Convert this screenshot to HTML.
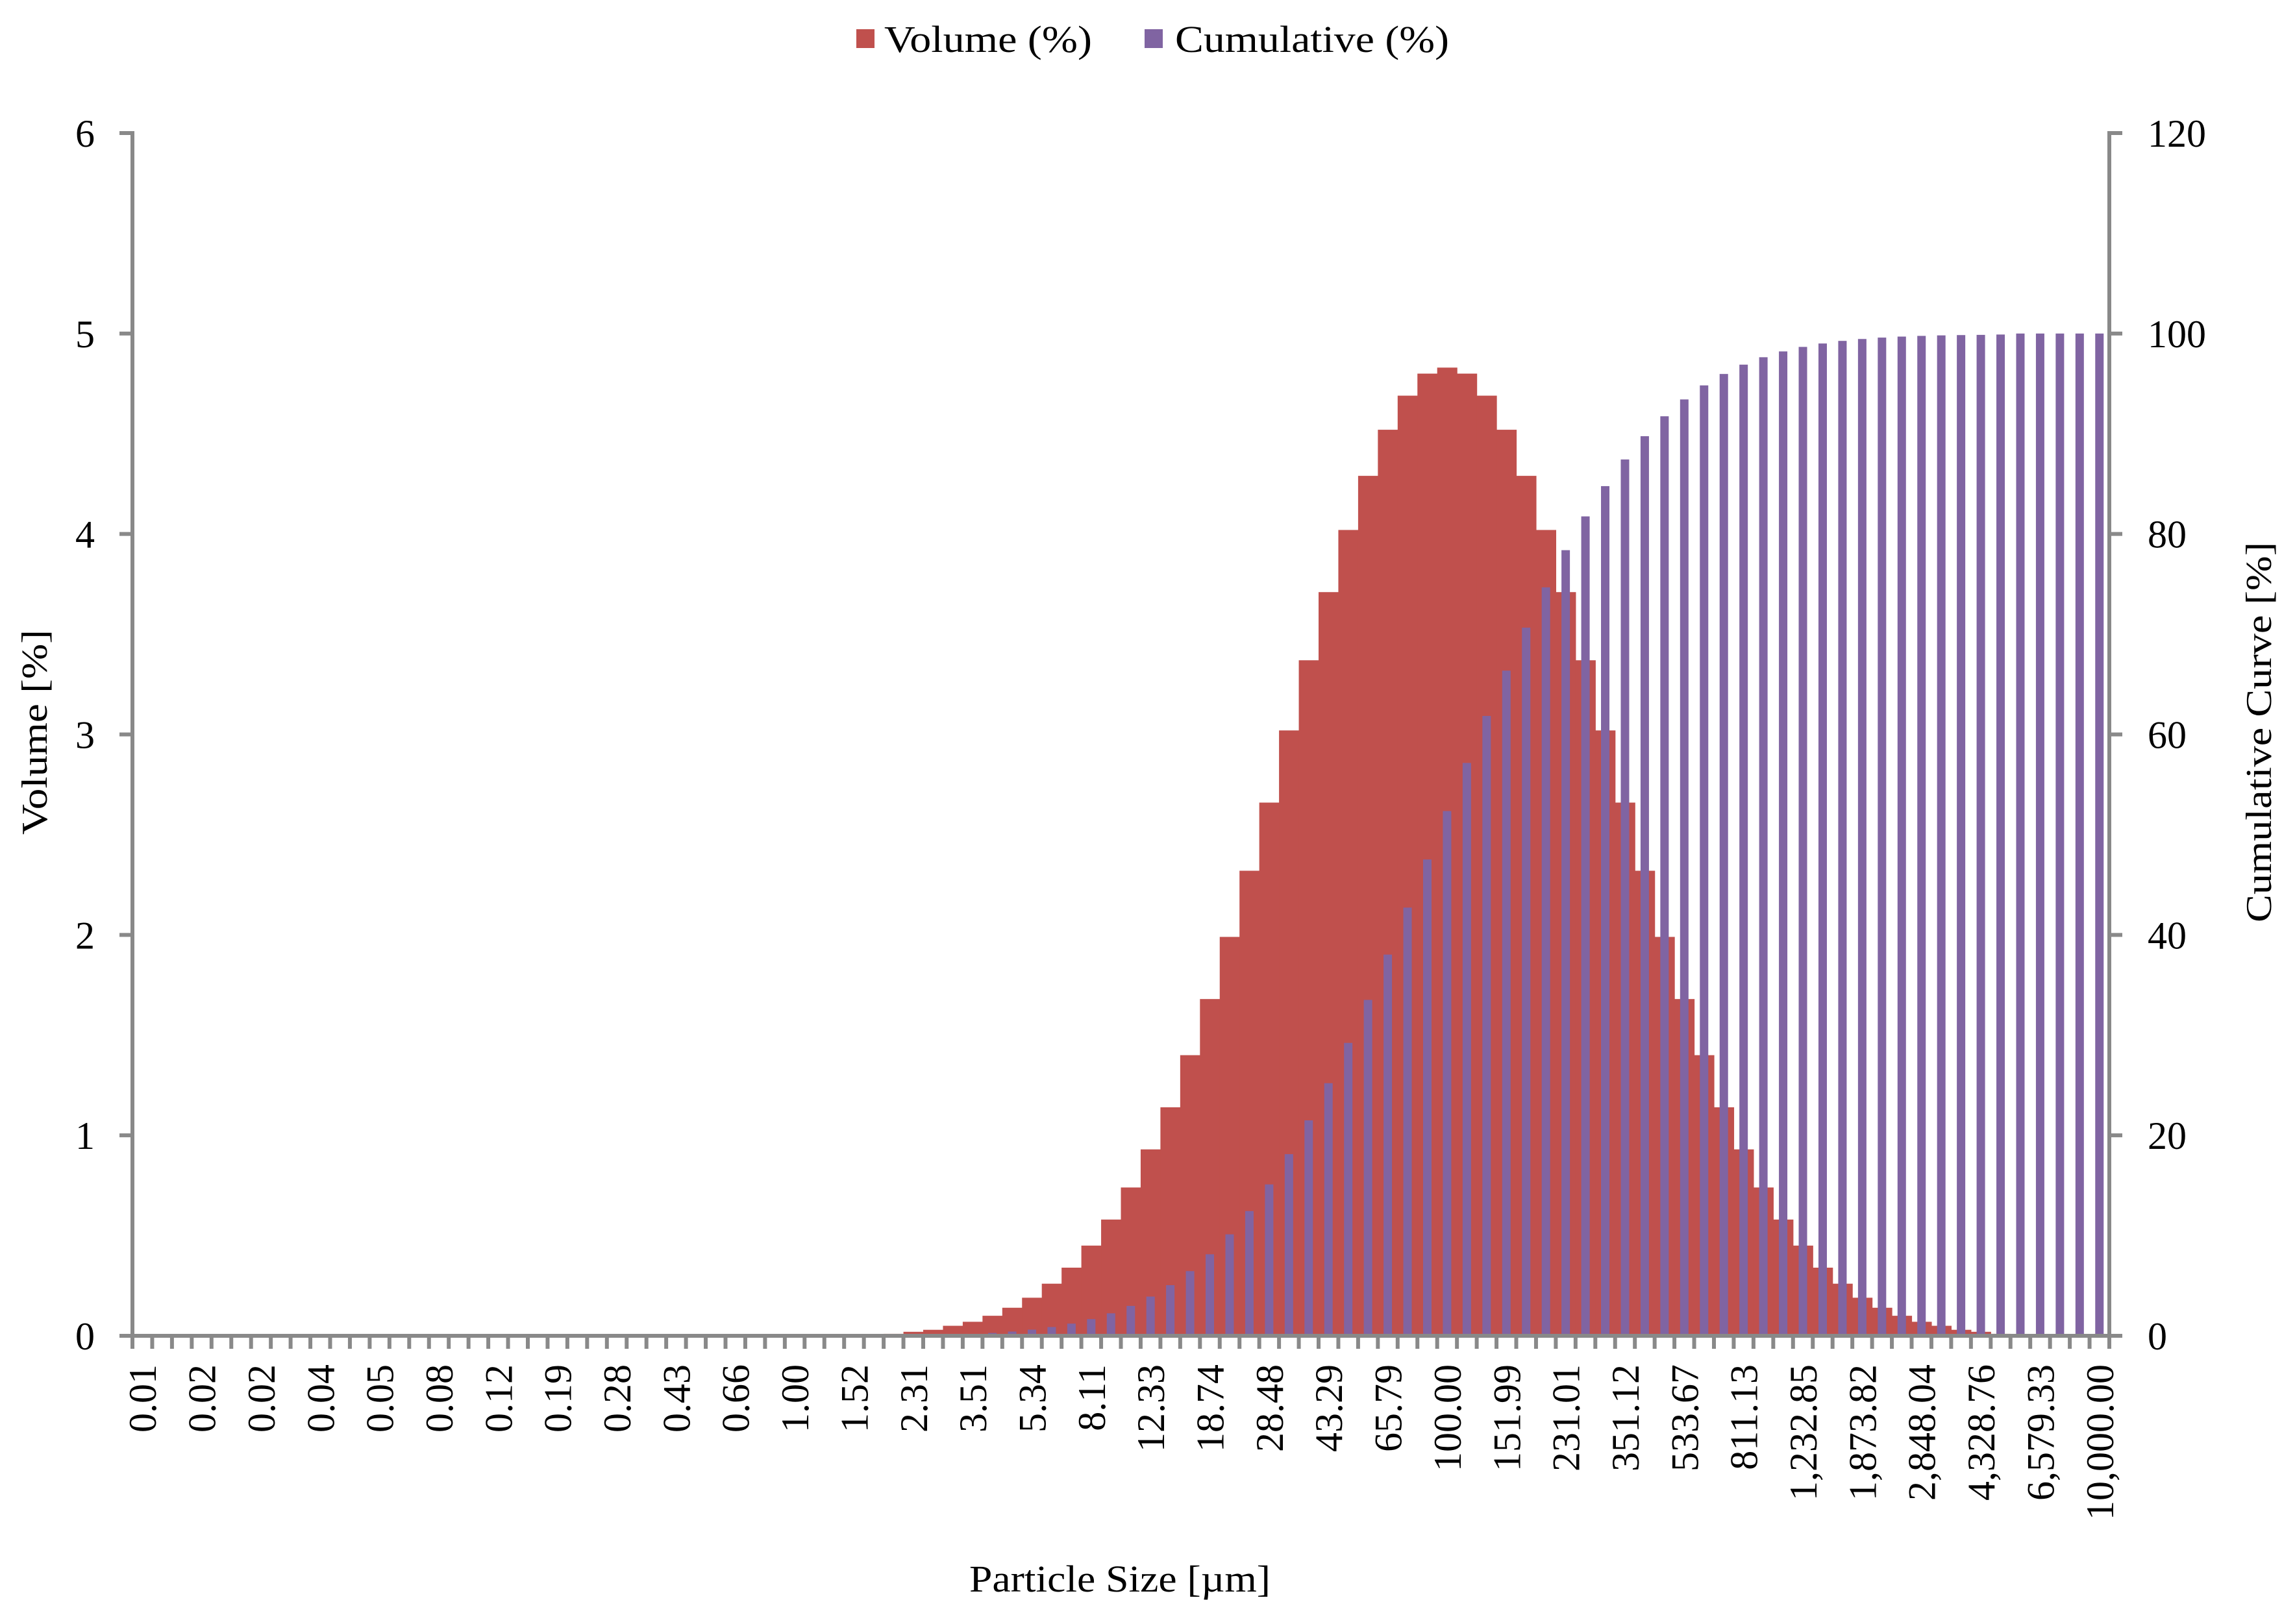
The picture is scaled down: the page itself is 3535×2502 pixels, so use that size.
<!DOCTYPE html>
<html><head><meta charset="utf-8"><style>html,body{margin:0;padding:0;background:#fff}svg{display:block}text{font-family:"Liberation Serif",serif;fill:#000}</style></head>
<body>
<svg id="chart" width="3535" height="2502" viewBox="0 0 3535 2502" xmlns="http://www.w3.org/2000/svg">
<g>
<rect x="1319" y="45" width="28" height="29" fill="#C0504D"/>
<text x="1362" y="80" font-size="58" textLength="320" lengthAdjust="spacingAndGlyphs">Volume (%)</text>
<rect x="1763" y="45" width="28" height="29" fill="#8064A2"/>
<text x="1810" y="80" font-size="58" textLength="422" lengthAdjust="spacingAndGlyphs">Cumulative (%)</text>
</g>
<text transform="translate(72,1128) rotate(-90)" text-anchor="middle" font-size="56" textLength="316" lengthAdjust="spacingAndGlyphs">Volume [%]</text>
<text transform="translate(3498,1128) rotate(-90)" text-anchor="middle" font-size="56" textLength="586" lengthAdjust="spacingAndGlyphs">Cumulative Curve [%]</text>
<text x="1725" y="2452" text-anchor="middle" font-size="58" textLength="464" lengthAdjust="spacingAndGlyphs">Particle Size [µm]</text>
<g id="bars"></g>
<g id="axes"></g>
</svg>
<script>
const xLabels = ["0.01","0.02","0.02","0.04","0.05","0.08","0.12","0.19","0.28","0.43","0.66","1.00","1.52","2.31","3.51","5.34","8.11","12.33","18.74","28.48","43.29","65.79","100.00","151.99","231.01","351.12","533.67","811.13","1,232.85","1,873.82","2,848.04","4,328.76","6,579.33","10,000.00"];
const volume = [0,0,0,0,0,0,0,0,0,0, 0,0,0,0,0,0,0,0,0,0, 0,0,0,0,0,0,0,0,0,0, 0,0,0,0,0,0,0,
0.005,0.01,0.02,0.03,0.05,0.07,0.10,0.14,0.19,0.26,0.34,0.45,0.58,0.74,0.93,1.14,1.40,1.68,1.99,2.32,2.66,3.02,3.37,3.71,4.02,4.29,4.52,4.69,4.80,
4.83,
4.80,4.69,4.52,4.29,4.02,3.71,3.37,3.02,2.66,2.32,1.99,1.68,1.40,1.14,0.93,0.74,0.58,0.45,0.34,0.26,0.19,0.14,0.10,0.07,0.05,0.03,0.02,0.01,0.005,
0,0,0,0];
const cumulative = [0,0,0,0,0,0,0,0,0,0, 0,0,0,0,0,0,0,0,0,0, 0,0,0,0,0,0,0,0,0,0, 0,0,0,0,0,0,0,
0.005,0.015,0.035,0.065,0.115,0.185,0.285,0.425,0.615,0.875,1.215,1.665,2.245,2.985,3.915,5.055,6.455,8.135,10.125,12.445,15.105,18.125,21.495,25.205,29.225,33.515,38.035,42.725,47.525,
52.355,
57.155,61.845,66.365,70.655,74.675,78.385,81.755,84.775,87.435,89.755,91.745,93.425,94.825,95.965,96.895,97.635,98.215,98.665,99.005,99.265,99.455,99.595,99.695,99.765,99.815,99.845,99.865,99.9,100,
100,100,100,100];
const yTicks = [0,1,2,3,4,5,6];
const y2Ticks = [0,20,40,60,80,100,120];

const NS="http://www.w3.org/2000/svg";
const X0=204, X1=3249, Y0=2058, YT=205;
const n=volume.length, cw=(X1-X0)/n;
const y1=v=>Y0-(v/6)*(Y0-YT);
const y2=v=>Y0-(v/120)*(Y0-YT);
const xc=i=>X0+(i+0.5)*cw;
function mk(tag,attrs,parent){const e=document.createElementNS(NS,tag);for(const k in attrs)e.setAttribute(k,attrs[k]);parent.appendChild(e);return e;}
const bars=document.getElementById('bars'), axes=document.getElementById('axes');
volume.forEach((v,i)=>{ if(v<=0)return;
  const r=mk('rect',{x:X0+i*cw,y:y1(v),width:cw+0.6,height:Y0-y1(v),fill:'#C0504D'},bars);
  
  
});
cumulative.forEach((v,i)=>{ if(v<=0)return;
  const w=13;
  const r=mk('rect',{x:xc(i)-w/2,y:y2(v),width:w,height:Y0-y2(v),fill:'#8064A2'},bars);
  
  
});
const G='#898989';
let l=mk('line',{x1:X0,y1:YT-3,x2:X0,y2:Y0+3,stroke:G,'stroke-width':6},axes);


l=mk('line',{x1:X1,y1:YT-3,x2:X1,y2:Y0+3,stroke:G,'stroke-width':6},axes);


l=mk('line',{x1:X0-20,y1:Y0,x2:X1+20,y2:Y0,stroke:G,'stroke-width':6},axes);


yTicks.forEach(v=>{
  const y=y1(v);
  const t=mk('line',{x1:X0-20,y1:y,x2:X0,y2:y,stroke:G,'stroke-width':6},axes);
  
  
  const tx=mk('text',{x:146,y:y+21,'text-anchor':'end','font-size':60},axes);
  tx.textContent=v;
  
  
});
y2Ticks.forEach(v=>{
  const y=y2(v);
  const t=mk('line',{x1:X1,y1:y,x2:X1+20,y2:y,stroke:G,'stroke-width':6},axes);
  
  
  const tx=mk('text',{x:3308,y:y+21,'text-anchor':'start','font-size':60},axes);
  tx.textContent=v;
  
  
});
for(let i=0;i<=n;i++){
  const x=X0+i*cw;
  const t=mk('line',{x1:x,y1:Y0,x2:x,y2:Y0+20,stroke:G,'stroke-width':6},axes);
  
  
}
xLabels.forEach((s,k)=>{
  const x=xc(k*3);
  const tx=mk('text',{transform:`translate(${x+21},2102) rotate(-90)`,'text-anchor':'end','font-size':60},axes);
  tx.textContent=s;
  
  
});
</script>
</body></html>
